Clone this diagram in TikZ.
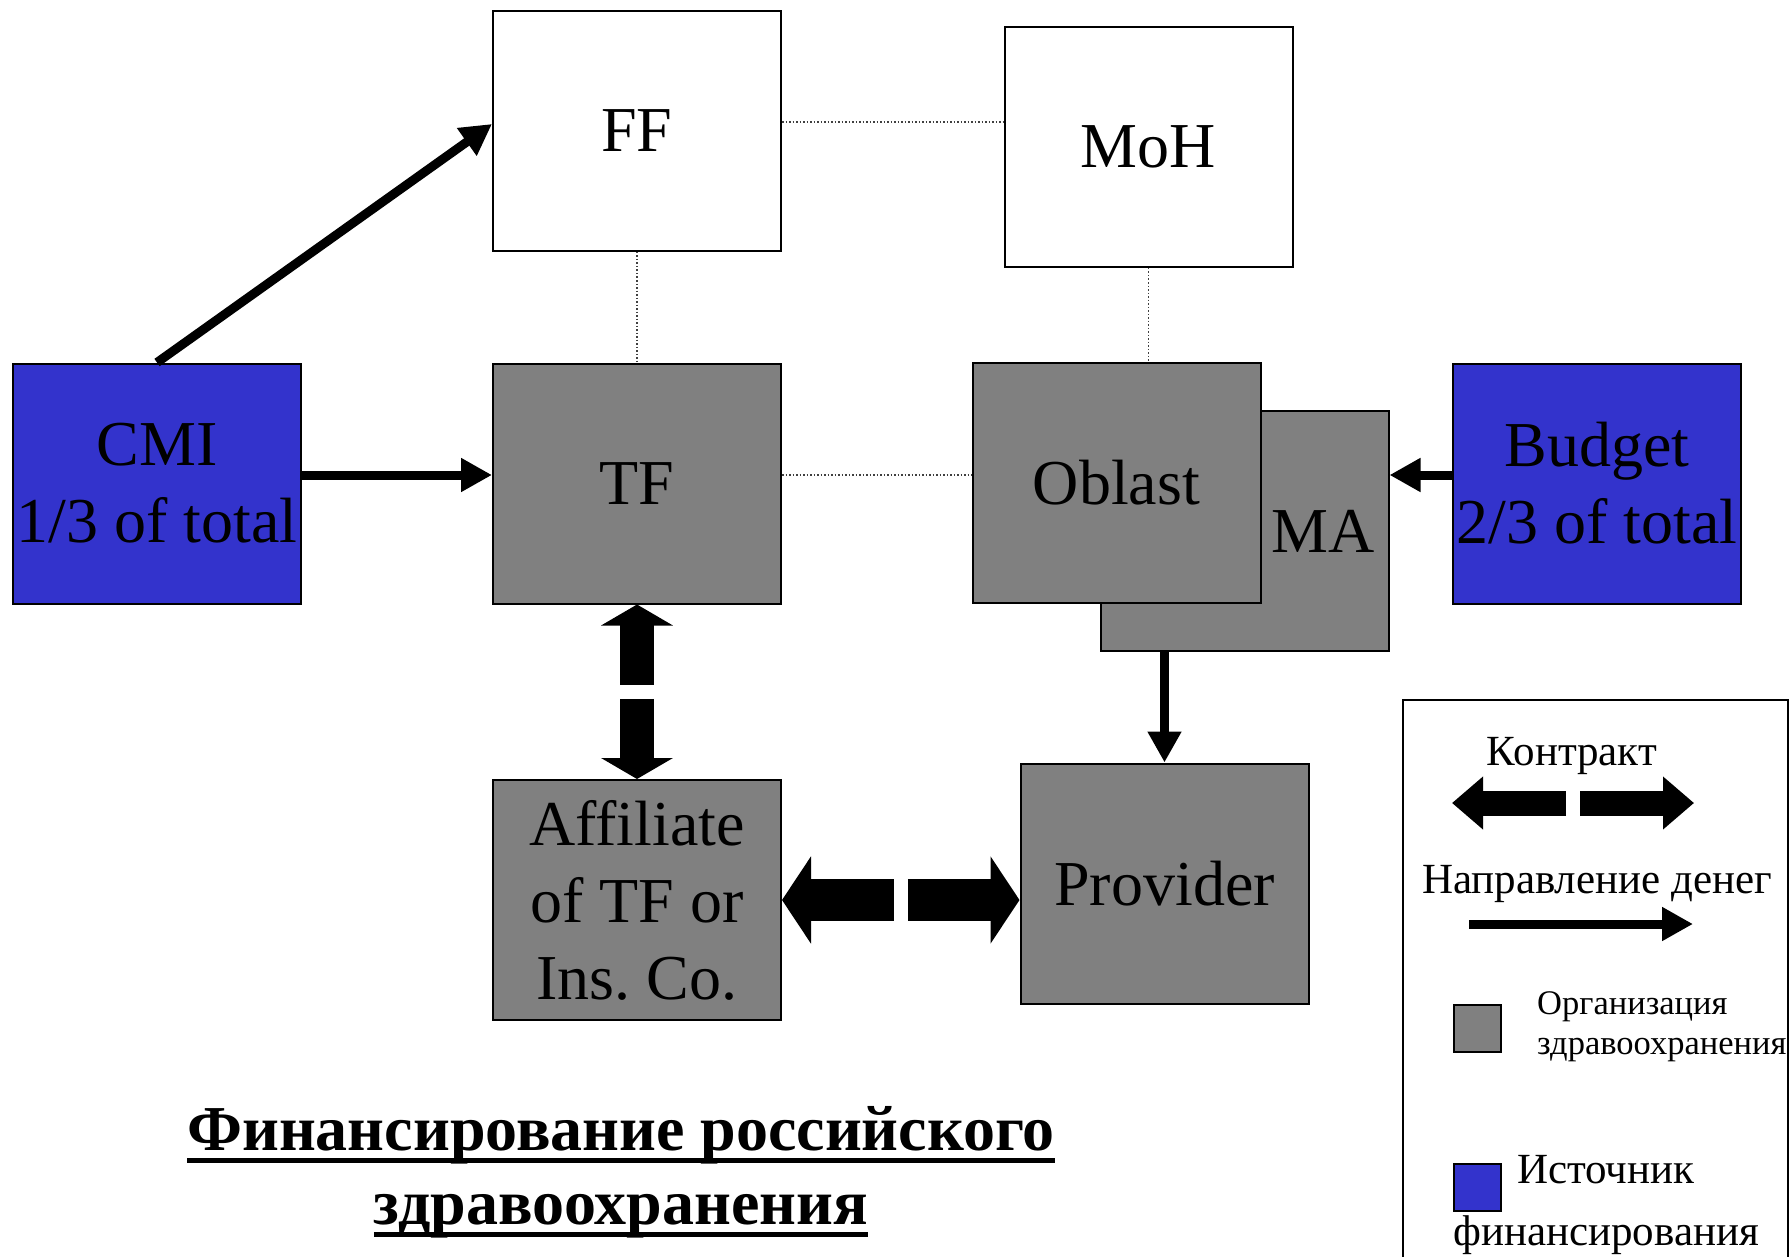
\documentclass[tikz,border=0pt]{standalone}
\usepackage{fontspec}
\setmainfont{Liberation Serif}
\usetikzlibrary{arrows.meta,positioning,calc}
\definecolor{orggray}{HTML}{808080}
\definecolor{srcblue}{HTML}{3333CC}
\newsavebox\ulbox
\newcommand\ulword[1]{\sbox\ulbox{#1}\rlap{\rule[-13pt]{\wd\ulbox}{5pt}}\usebox\ulbox}
\frenchspacing

\begin{document}
\begin{tikzpicture}[x=1pt, y=-1pt,
  box/.style={rectangle, draw=black, line width=2pt, minimum width=288pt, minimum height=240pt, inner sep=0pt, align=center, font=\fontsize{64}{77}\selectfont},
  whitebox/.style={box, fill=white},
  orgbox/.style={box, fill=orggray},
  srcbox/.style={box, fill=srcblue},
  link/.style={draw=black!75, line width=1.5pt, dotted},
  money/.style={line width=9pt, -{Triangle[length=31pt, width=32pt]}},
  contract/.style args={#1/#2/#3}{line width=#1, -{Triangle[length=#2, width=#3]}},
  keytext/.style={font=\fontsize{43}{48}\selectfont, inner sep=0pt},
  keysq/.style={rectangle, draw=black, line width=2pt, minimum size=47pt, inner sep=0pt, fill=#1}
]
  \useasboundingbox (0,0) rectangle (1790,1257);
  % Top row
  \node[whitebox] (ff) at (637,131) {FF};
  \node[whitebox] (moh) at (1148.5,147) {MoH};
  % Middle row
  \node[srcbox] (cmi) at (157,483.5) {CMI\\1/3 of total};
  \node[orgbox] (tf) at (637,483.5) {TF};
  \node[orgbox, text width=261pt, align=right] (ma) at (1244.5,531) {MA};
  \node[orgbox] (oblast) at (1116.5,483) {Oblast};
  \node[srcbox] (budget) at (1597,483.5) {Budget\\2/3 of total};
  % Bottom row
  \node[orgbox] (aff) at (637,900) {Affiliate\\of TF or\\Ins. Co.};
  \node[orgbox] (prov) at (1164.5,883.5) {Provider};
  % Dotted links
  \coordinate (row) at (0,475);
  \coordinate (ffdot) at ([yshift=9pt]ff.east);
  \draw[link] (ffdot) -- (ffdot -| moh.west);
  \draw[link] (ff.south) -- (tf.north);
  \draw[link] (moh.south) -- (moh.south |- oblast.north);
  \draw[link] (tf.east |- row) -- (oblast.west |- row);
  % Money flows
  \draw[money] (cmi.north) -- ([yshift=7pt]ff.west);
  \draw[money] (cmi.east |- row) -- (tf.west |- row);
  \draw[money] (budget.west |- row) -- (ma.east |- row);
  \draw[money] (ma.south -| prov.north) -- (prov.north);
  % Contracts
  \coordinate (vgap) at ($(tf.south)!0.5!(aff.north)$);
  \draw[contract=34pt/21pt/71pt] ([yshift=7pt]vgap) -- (tf.south);
  \draw[contract=34pt/21pt/71pt] ([yshift=-7pt]vgap) -- (aff.north);
  \coordinate (hgap) at ($(aff.east)!0.5!(aff.east -| prov.west)$);
  \draw[contract=42pt/29pt/86pt] ([xshift=-7pt]hgap) -- (aff.east);
  \draw[contract=42pt/29pt/86pt] ([xshift=7pt]hgap) -- (hgap -| prov.west);
  % Legend
  \node[rectangle, draw=black, line width=2pt, minimum width=385pt, minimum height=600pt] (legend) at (1595.5,1000) {};
  \node[keytext] (kcontract) at (1572,756) {Контракт};
  \coordinate (kgap) at (1573,803);
  \coordinate (kleft) at (1452,803);
  \coordinate (kright) at (1694,803);
  \draw[contract=25pt/31pt/51pt] ([xshift=-7pt]kgap) -- (kleft);
  \draw[contract=25pt/31pt/51pt] ([xshift=7pt]kgap) -- (kright);
  \node[keytext] (kmoney) at (1597,884) {Направление денег};
  \coordinate (mstart) at (1469,924);
  \coordinate (mend) at (1693,924);
  \draw[money] (mstart) -- (mend);
  \node[keysq=orggray] (korg) at (1477,1028) {};
  \node[keytext, font=\fontsize{34.5}{40}\selectfont, align=left, anchor=west] (korgtext) at (1537,1027) {Организация\\здравоохранения};
  \node[keysq=srcblue] (ksrc) at (1477,1187.5) {};
  \node[keytext, anchor=west] (ksrctext) at (1517,1170) {Источник};
  \node[keytext, anchor=west] (ksrctext2) at (1453,1235) {финансирования};
  % Title
  \node[font=\bfseries\fontsize{64}{74}\selectfont, align=center, inner sep=0pt] (title) at (621,1172) {\ulword{Финансирование российского}\\\ulword{здравоохранения}};
\end{tikzpicture}
\end{document}
